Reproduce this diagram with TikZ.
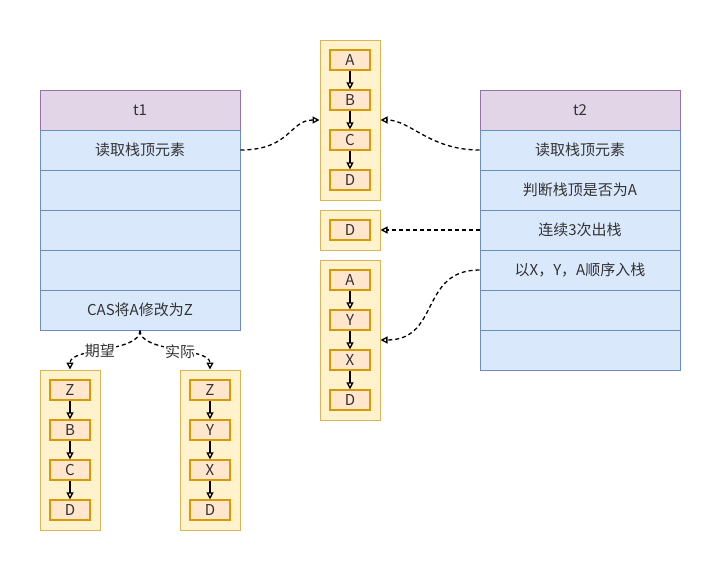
\documentclass[tikz,border=0pt]{standalone}
\usepackage{fontspec}
\setmainfont{Noto Sans CJK SC}
\usetikzlibrary{arrows.meta}
\definecolor{hdrfill}{HTML}{E1D5E7}
\definecolor{hdrline}{HTML}{9673A6}
\definecolor{rowfill}{HTML}{DAE8FC}
\definecolor{rowline}{HTML}{6C8EBF}
\definecolor{stkfill}{HTML}{FFF2CC}
\definecolor{stkline}{HTML}{D6B656}
\definecolor{itmfill}{HTML}{FFE6CC}
\definecolor{itmline}{HTML}{D79B00}
\definecolor{txt}{HTML}{333333}
\begin{document}
\begin{tikzpicture}[x=1pt,y=-1pt,
  every node/.style={font=\fontsize{15}{17}\selectfont, text=txt, inner sep=0pt},
  hdr/.style={draw=hdrline, fill=hdrfill, line width=1pt, minimum width=200pt, minimum height=40pt},
  rowc/.style={draw=rowline, fill=rowfill, line width=1pt, minimum width=200pt, minimum height=40pt},
  stk/.style={draw=stkline, fill=stkfill, line width=1pt, minimum width=60pt, minimum height=#1},
  itm/.style={draw=itmline, fill=itmfill, line width=1.2pt, minimum width=40pt, minimum height=20pt},
  link/.style={draw=black, line width=1.3pt, -{Triangle[open,length=7pt,width=7pt]}},
  dlink/.style={draw=black, line width=1.3pt, dash pattern=on 4pt off 3pt, -{Triangle[open,length=7pt,width=7pt]}},
  lbl/.style={fill=white, inner sep=1pt}
]
\useasboundingbox (0,0) rectangle (721,571);

% thread t1
\node[hdr]  (a0) at (140,110) {t1};
\node[rowc] (a1) at (140,150) {读取栈顶元素};
\node[rowc] (a2) at (140,190) {};
\node[rowc] (a3) at (140,230) {};
\node[rowc] (a4) at (140,270) {};
\node[rowc] (a5) at (140,310) {CAS将A修改为Z};

% thread t2
\node[hdr]  (b0) at (580,110) {t2};
\node[rowc] (b1) at (580,150) {读取栈顶元素};
\node[rowc] (b2) at (580,190) {判断栈顶是否为A};
\node[rowc] (b3) at (580,230) {连续3次出栈};
\node[rowc] (b4) at (580,270) {以X，Y，A顺序入栈};
\node[rowc] (b5) at (580,310) {};
\node[rowc] (b6) at (580,350) {};

% stack 1
\node[stk=160pt] (s1) at (350,120) {};
\node[itm] (s1a) at (350,60) {A};
\node[itm] (s1b) at (350,100) {B};
\node[itm] (s1c) at (350,140) {C};
\node[itm] (s1d) at (350,180) {D};
\draw[link] (s1a) -- (s1b);
\draw[link] (s1b) -- (s1c);
\draw[link] (s1c) -- (s1d);

% stack 2
\node[stk=40pt] (s2) at (350,230) {};
\node[itm] (s2d) at (350,230) {D};

% stack 3
\node[stk=160pt] (s3) at (350,340) {};
\node[itm] (s3a) at (350,280) {A};
\node[itm] (s3y) at (350,320) {Y};
\node[itm] (s3x) at (350,360) {X};
\node[itm] (s3d) at (350,400) {D};
\draw[link] (s3a) -- (s3y);
\draw[link] (s3y) -- (s3x);
\draw[link] (s3x) -- (s3d);

% expected stack
\node[stk=160pt] (s4) at (70,450) {};
\node[itm] (s4z) at (70,390) {Z};
\node[itm] (s4b) at (70,430) {B};
\node[itm] (s4c) at (70,470) {C};
\node[itm] (s4d) at (70,510) {D};
\draw[link] (s4z) -- (s4b);
\draw[link] (s4b) -- (s4c);
\draw[link] (s4c) -- (s4d);

% actual stack
\node[stk=160pt] (s5) at (210,450) {};
\node[itm] (s5z) at (210,390) {Z};
\node[itm] (s5y) at (210,430) {Y};
\node[itm] (s5x) at (210,470) {X};
\node[itm] (s5d) at (210,510) {D};
\draw[link] (s5z) -- (s5y);
\draw[link] (s5y) -- (s5x);
\draw[link] (s5x) -- (s5d);

% dashed connectors
\draw[dlink] (a1.east) .. controls +(50,0) and +(-30,0) .. (s1.west);
\draw[dlink] (b1.west) .. controls +(-50,0) and +(30,0) .. (s1.east);
\draw[dlink] (b3.west) -- (s2.east);
\draw[dlink] (b4.west) .. controls +(-60,0) and +(60,0) .. (s3.east);
\draw[dlink] (a5.south) .. controls +(0,22) and +(0,-22) .. node[lbl, pos=0.55] {期望} (s4.north);
\draw[dlink] (a5.south) .. controls +(0,22) and +(0,-22) .. node[lbl, pos=0.55] {实际} (s5.north);
\end{tikzpicture}
\end{document}
